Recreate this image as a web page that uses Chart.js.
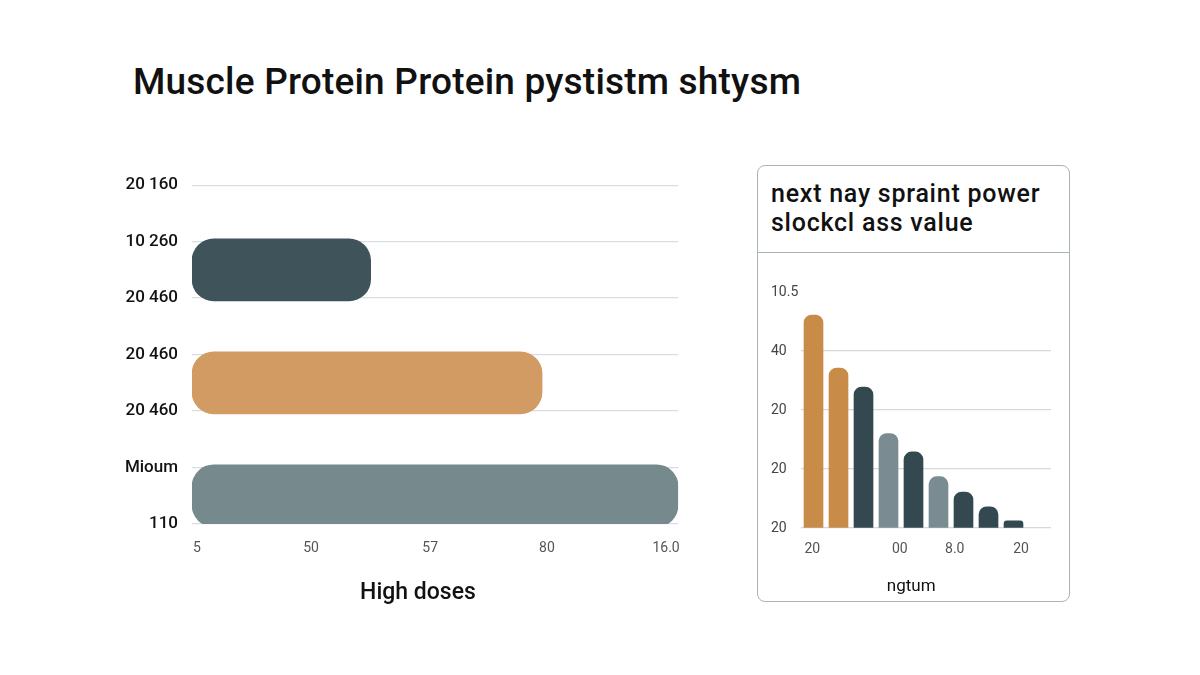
<!DOCTYPE html>
<html>
<head>
<meta charset="utf-8">
<script src="https://cdn.jsdelivr.net/npm/chart.js@4"></script>
<style>
  html, body { margin: 0; padding: 0; background: #fff; }
  body { width: 1200px; height: 675px; position: relative; overflow: hidden; font-family: Roboto, "Liberation Sans", sans-serif; }
  #title { position: absolute; left: 133px; top: 60px; margin: 0; font-size: 37px; line-height: 1.17; font-weight: 500; color: #111; letter-spacing: 0.2px; white-space: nowrap; }
  #leftWrap { position: absolute; left: 100px; top: 161px; width: 596px; height: 449px; }
  #panel { position: absolute; left: 757px; top: 165px; width: 311px; height: 435px; border: 1.5px solid #aab4b8; border-radius: 8px; }
  #panelHead { height: 87px; border-bottom: 1.5px solid #aab4b8; box-sizing: border-box; padding: 13px 0 0 13px; font-size: 25px; font-weight: 500; line-height: 29px; letter-spacing: 0.75px; color: #111; white-space: nowrap; }
  #rightWrap { position: absolute; left: 765px; top: 272px; width: 300px; height: 328px; }
</style>
</head>
<body>
<h1 id="title">Muscle Protein Protein pystistm shtysm</h1>
<div id="leftWrap"><canvas id="leftChart"></canvas></div>
<div id="panel">
  <div id="panelHead">next nay spraint power<br>slockcl ass value</div>
</div>
<div id="rightWrap"><canvas id="rightChart"></canvas></div>
<script>
// left chart: horizontal bars
const leftYLabels = ["20 160", "10 260", "20 460", "20 460", "20 460", "Mioum", "110"];
const leftBands = ["b1", "b2", "b3", "b4", "b5", "b6"];
const leftValues = [null, 1.47, null, 2.88, null, 4.0];
const leftColors = ["#3e545a", "#3e545a", "#d19b63", "#d19b63", "#768a8e", "#768a8e"];
const leftXTickValues = [0.04, 0.98, 1.96, 2.92, 3.9];
const leftXTickLabels = ["5", "50", "57", "80", "16.0"];

// right chart: vertical bars in the panel
const rightBands = ["1", "2", "3", "4", "5", "6", "7", "8", "9", "10"];
const rightValues = [3.61, 2.71, 2.39, 1.6, 1.29, 0.87, 0.61, 0.36, 0.12, null];
const rightColors = ["#c98b48", "#c98b48", "#34494f", "#7a8b92", "#34494f", "#7a8b92", "#34494f", "#34494f", "#34494f", "#34494f"];
const rightYTickLabels = ["20", "20", "20", "40", "10.5"];
const rightXTickValues = [0.45, 3.95, 6.15, 8.8];
const rightXTickLabels = ["20", "00", "8.0", "20"];

const fontFamily = "Roboto, 'Liberation Sans', sans-serif";
// trailing no-break spaces pull the centred axis titles a little to the left, as in the picture
const pad = (n) => "\u00a0".repeat(n);

new Chart(document.getElementById("leftChart"), {
    type: "bar",
    data: {
        labels: leftBands,
        datasets: [{
            data: leftValues,
            backgroundColor: leftColors,
            yAxisID: "yBars",
            xAxisID: "x",
            barThickness: 62,
            borderRadius: 22,
            borderSkipped: false,
        }],
    },
    options: {
        indexAxis: "y",
        responsive: true,
        maintainAspectRatio: false,
        animation: false,
        layout: { padding: { top: 15, right: 12, left: 0, bottom: 0 } },
        plugins: { legend: { display: false }, tooltip: { enabled: false } },
        scales: {
            x: {
                type: "linear",
                min: 0,
                max: 4,
                offset: false,
                afterBuildTicks: (s) => { s.ticks = leftXTickValues.map((v) => ({ value: v })); },
                afterFit: (s) => { s.height = 86; },
                grid: { display: false, drawTicks: false },
                border: { display: false },
                ticks: {
                    callback: (v, i) => leftXTickLabels[i],
                    color: "#555",
                    font: { family: fontFamily, size: 14 },
                    padding: 16,
                    maxRotation: 0,
                },
                title: {
                    display: true,
                    text: "High doses" + pad(6),
                    color: "#111",
                    font: { family: fontFamily, size: 23, weight: "500" },
                    padding: { top: 0, bottom: 3 },
                },
            },
            y: {
                type: "category",
                labels: leftYLabels,
                offset: false,
                afterFit: (s) => { s.width = 92; },
                grid: { color: "#d6dde4", lineWidth: 1.3, drawTicks: false, offset: false },
                border: { display: false },
                ticks: {
                    color: "#111",
                    font: { family: fontFamily, size: 17, weight: "500" },
                    padding: 14,
                },
            },
            yBars: {
                type: "category",
                labels: leftBands,
                offset: true,
                display: false,
            },
        },
    },
});

new Chart(document.getElementById("rightChart"), {
    type: "bar",
    data: {
        labels: rightBands,
        datasets: [{
            data: rightValues,
            backgroundColor: rightColors,
            xAxisID: "xBars",
            yAxisID: "y",
            barThickness: 19,
            borderRadius: { topLeft: 8, topRight: 8 },
            borderSkipped: "start",
        }],
    },
    options: {
        responsive: true,
        maintainAspectRatio: false,
        animation: false,
        layout: { padding: { top: 20, right: 14, left: 6, bottom: 0 } },
        plugins: { legend: { display: false }, tooltip: { enabled: false } },
        scales: {
            xBars: {
                type: "category",
                labels: rightBands,
                offset: true,
                display: false,
            },
            x: {
                type: "linear",
                min: 0,
                max: 10,
                offset: false,
                afterBuildTicks: (s) => { s.ticks = rightXTickValues.map((v) => ({ value: v })); },
                afterFit: (s) => { s.height = 72; },
                grid: { display: false, drawTicks: false },
                border: { display: false },
                ticks: {
                    callback: (v, i) => rightXTickLabels[i],
                    color: "#555",
                    font: { family: fontFamily, size: 14 },
                    padding: 13,
                    maxRotation: 0,
                },
                title: {
                    display: true,
                    text: "ngtum" + pad(7),
                    color: "#111",
                    font: { family: fontFamily, size: 17 },
                    padding: { top: 0, bottom: 3 },
                },
            },
            y: {
                type: "linear",
                min: 0,
                max: 4,
                afterFit: (s) => { s.width = 30; },
                grid: {
                    color: (ctx) => (ctx.tick && ctx.tick.value === 4 ? "rgba(0,0,0,0)" : "#d3d9df"),
                    lineWidth: 1.3,
                    drawTicks: false,
                },
                border: { display: false },
                ticks: {
                    stepSize: 1,
                    callback: (v) => rightYTickLabels[v],
                    color: "#444",
                    font: { family: fontFamily, size: 14 },
                    crossAlign: "far",
                    padding: 8,
                },
            },
        },
    },
});
</script>
</body>
</html>
